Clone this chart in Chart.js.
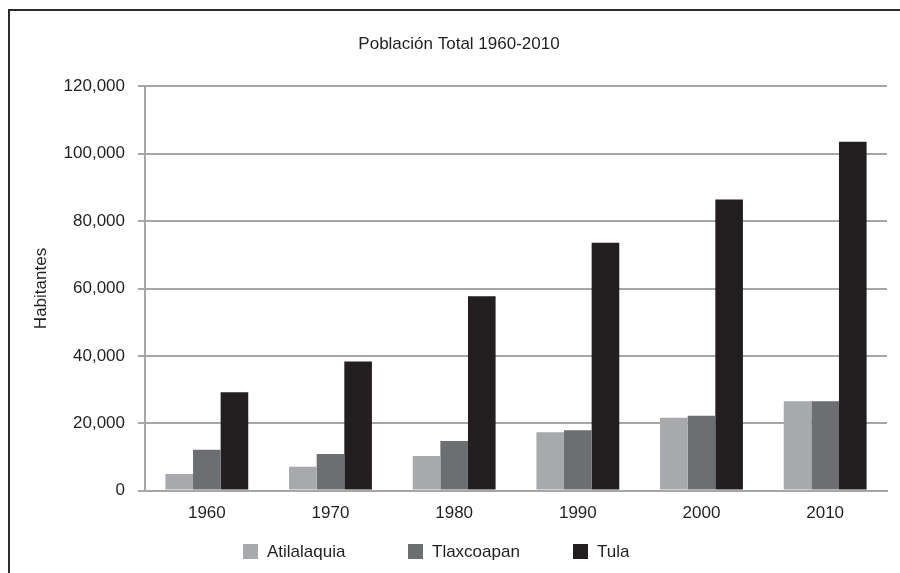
<!DOCTYPE html>
<html>
<head>
<meta charset="utf-8">
<script src="https://cdn.jsdelivr.net/npm/chart.js@4.4.0/dist/chart.umd.min.js"></script>
<style>
  html, body { margin: 0; padding: 0; background: #fff; }
  #wrap { position: relative; width: 900px; height: 573px; overflow: hidden; }
  #frame { position: absolute; left: 8px; top: 9px; width: 900px; height: 600px;
           border-left: 2px solid #2b2b2b; border-top: 2px solid #2b2b2b; }
  #chart { position: absolute; left: 0; top: 0; }
  #legend { position: absolute; top: 542px; left: 0; width: 900px; height: 22px;
            font-family: "Liberation Sans", Arial, sans-serif;
            font-size: 17px; color: #231f20; }
  .item { position: absolute; top: 0; height: 20px; line-height: 20px; white-space: nowrap; }
  .box { position: absolute; left: 0; top: 2px; width: 15px; height: 15px; }
  .txt { position: absolute; left: 24px; top: 0; }
</style>
</head>
<body>
<div id="wrap">
  <div id="frame"></div>
  <canvas id="chart" width="900" height="573"></canvas>
  <div id="legend"></div>
</div>
<script>
// Data
var years = ['1960', '1970', '1980', '1990', '2000', '2010'];
var seriesNames = ['Atilalaquia', 'Tlaxcoapan', 'Tula'];
var atilalaquia = [4900, 7100, 10300, 17300, 21600, 26500];
var tlaxcoapan = [12100, 10900, 14700, 17900, 22200, 26500];
var tula = [29200, 38300, 57700, 73600, 86400, 103600];
var yTicks = [0, 20000, 40000, 60000, 80000, 100000, 120000];

var colors = ['#a7a9ac', '#6d6e71', '#231f20'];
var fontFamily = '"Liberation Sans", Arial, sans-serif';
var textColor = '#231f20';
var gridColor = '#a6a6a6';

var values = [atilalaquia, tlaxcoapan, tula];
var datasets = [];
for (var i = 0; i < seriesNames.length; i++) {
  datasets.push({
    label: seriesNames[i],
    data: values[i],
    backgroundColor: colors[i],
    borderWidth: 0,
    barPercentage: 1,
    categoryPercentage: 0.67
  });
}

var chart = new Chart(document.getElementById('chart'), {
  type: 'bar',
  data: { labels: years, datasets: datasets },
  options: {
    responsive: false,
    animation: false,
    layout: { padding: { left: 31, right: 13, top: 24, bottom: 36 } },
    plugins: {
      legend: { display: false },
      tooltip: { enabled: false },
      title: {
        display: true,
        text: 'Población Total 1960-2010',
        color: textColor,
        font: { family: fontFamily, size: 17, weight: 'normal' },
        padding: { top: 10, bottom: 32 }
      }
    },
    scales: {
      x: {
        grid: { display: false, drawTicks: false },
        border: { display: true, color: gridColor, width: 2 },
        ticks: { color: textColor, padding: 13, font: { family: fontFamily, size: 17 } }
      },
      y: {
        min: 0,
        max: 120000,
        afterBuildTicks: function (scale) {
          scale.ticks = yTicks.map(function (v) { return { value: v }; });
        },
        afterFit: function (scale) { scale.width = 114; },
        grid: { color: gridColor, lineWidth: 2, drawTicks: true, tickLength: 7 },
        border: { display: true, color: gridColor, width: 2 },
        ticks: {
          color: textColor,
          padding: 13,
          font: { family: fontFamily, size: 17 },
          callback: function (v) { return v.toLocaleString('en-US'); }
        },
        title: {
          display: true,
          text: 'Habitantes',
          color: textColor,
          padding: 0,
          font: { family: fontFamily, size: 17 }
        }
      }
    }
  }
});

// Legend
var legendX = [243, 408, 573];
var legend = document.getElementById('legend');
for (var j = 0; j < seriesNames.length; j++) {
  var item = document.createElement('div');
  item.className = 'item';
  item.style.left = legendX[j] + 'px';
  item.innerHTML = '<span class="box" style="background:' + colors[j] + '"></span>' +
    '<span class="txt">' + seriesNames[j] + '</span>';
  legend.appendChild(item);
}
</script>
</body>
</html>
